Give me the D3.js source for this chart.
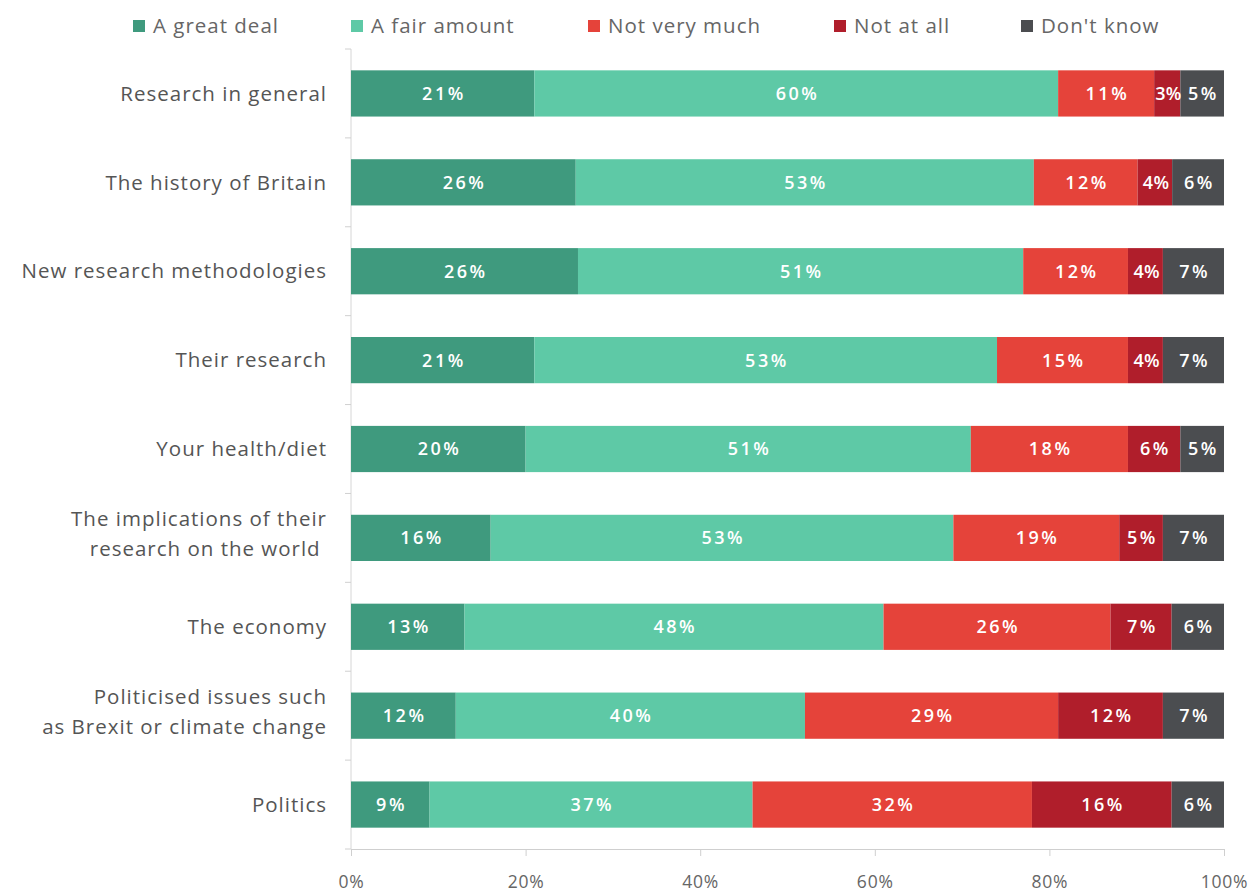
<!DOCTYPE html>
<html><head><meta charset="utf-8">
<script src="https://cdn.jsdelivr.net/npm/d3@7"></script>
<style>body{margin:0;background:#fff}</style>
</head><body>
<svg id="chart" width="1255" height="894"></svg>
<script>
const categories = [
  ["Research in general"],
  ["The history of Britain"],
  ["New research methodologies"],
  ["Their research"],
  ["Your health/diet"],
  ["The implications of their", "research on the world "],
  ["The economy"],
  ["Politicised issues such", "as Brexit or climate change"],
  ["Politics"]
];
const seriesNames = ["A great deal", "A fair amount", "Not very much", "Not at all", "Don't know"];
const seriesColors = ["#3f9a7e", "#5ec9a6", "#e5433a", "#b01e2b", "#4b4d50"];
const greatDeal   = [21, 26, 26, 21, 20, 16, 13, 12, 9];
const fairAmount  = [60, 53, 51, 53, 51, 53, 48, 40, 37];
const notVeryMuch = [11, 12, 12, 15, 18, 19, 26, 29, 32];
const notAtAll    = [3, 4, 4, 4, 6, 5, 7, 12, 16];
const dontKnow    = [5, 6, 7, 7, 5, 7, 6, 7, 6];
const tickValues = [0, 20, 40, 60, 80, 100];

const series = [greatDeal, fairAmount, notVeryMuch, notAtAll, dontKnow];
const rows = categories.map((c, i) => {
  const vals = series.map(s => s[i]);
  const total = d3.sum(vals);
  let acc = 0;
  return vals.map((v, k) => {
    const seg = {row: i, k, v, x0: acc / total * 100, x1: (acc + v) / total * 100};
    acc += v;
    return seg;
  });
});

const svg = d3.select("#chart");
const font = "'Open Sans', sans-serif";
const x = d3.scaleLinear().domain([0, 100]).range([351, 1224]);
const y = d3.scaleBand().domain(d3.range(categories.length)).range([49, 849]).paddingInner(0.48).paddingOuter(0.24);

// y axis line and ticks at band boundaries
svg.append("line").attr("x1", 351).attr("x2", 351).attr("y1", 49).attr("y2", 849)
  .attr("stroke", "#d6d6d6").attr("stroke-width", 1);
d3.range(categories.length + 1).forEach(i => {
  const yy = 49 + i * (800 / categories.length);
  svg.append("line").attr("x1", 345).attr("x2", 351).attr("y1", yy).attr("y2", yy)
    .attr("stroke", "#d0d0d0");
});

// bars
const labelLS = 2.5;
const g = svg.append("g");
rows.forEach(r => {
  g.selectAll(null).data(r).enter().append("rect")
    .attr("x", d => x(d.x0)).attr("width", d => x(d.x1) - x(d.x0))
    .attr("y", d => y(d.row)).attr("height", y.bandwidth())
    .attr("fill", d => seriesColors[d.k]);
  g.selectAll(null).data(r).enter().append("text")
    .attr("x", d => (x(d.x0) + x(d.x1)) / 2 + labelLS / 2)
    .attr("y", d => y(d.row) + y.bandwidth() / 2)
    .attr("dy", "0.36em").attr("text-anchor", "middle")
    .attr("fill", "#fff").attr("font-family", font).attr("font-weight", 600)
    .attr("font-size", 18).attr("letter-spacing", d => d.v < 10 && (x(d.x1) - x(d.x0)) < 40 ? 0.3 : labelLS)
    .text(d => d.v + "%");
});

// category labels
categories.forEach((lines, i) => {
  const cy = y(i) + y.bandwidth() / 2;
  const lh = 30;
  lines.forEach((ln, j) => {
    svg.append("text").attr("x", 327)
      .attr("y", cy + (j - (lines.length - 1) / 2) * lh - (lines.length > 1 ? 4 : 0))
      .attr("dy", "0.35em").attr("text-anchor", "end")
      .attr("fill", "#555").attr("font-family", font).attr("font-size", 20.5)
      .attr("letter-spacing", 1)
      .style("white-space", "pre")
      .text(ln);
  });
});

// x axis
const xAxis = svg.append("g").attr("transform", "translate(0,849)")
  .call(d3.axisBottom(x).tickValues(tickValues).tickFormat(d => d + "%").tickSize(7).tickPadding(20));
xAxis.select(".domain").attr("stroke", "#cfcfcf");
xAxis.selectAll(".tick line").attr("stroke", "#cfcfcf");
xAxis.selectAll(".tick text").attr("fill", "#666").attr("font-family", font)
  .attr("font-size", 17.5).attr("letter-spacing", 0.8);

// legend
const legendX = [133, 351, 588, 834, 1021];
seriesNames.forEach((n, k) => {
  svg.append("rect").attr("x", legendX[k]).attr("y", 20).attr("width", 12).attr("height", 12)
    .attr("fill", seriesColors[k]);
  svg.append("text").attr("x", legendX[k] + 20).attr("y", 26).attr("dy", "0.35em")
    .attr("fill", "#666").attr("font-family", font).attr("font-size", 20.5).attr("letter-spacing", 1)
    .text(n);
});
</script>
</body></html>
